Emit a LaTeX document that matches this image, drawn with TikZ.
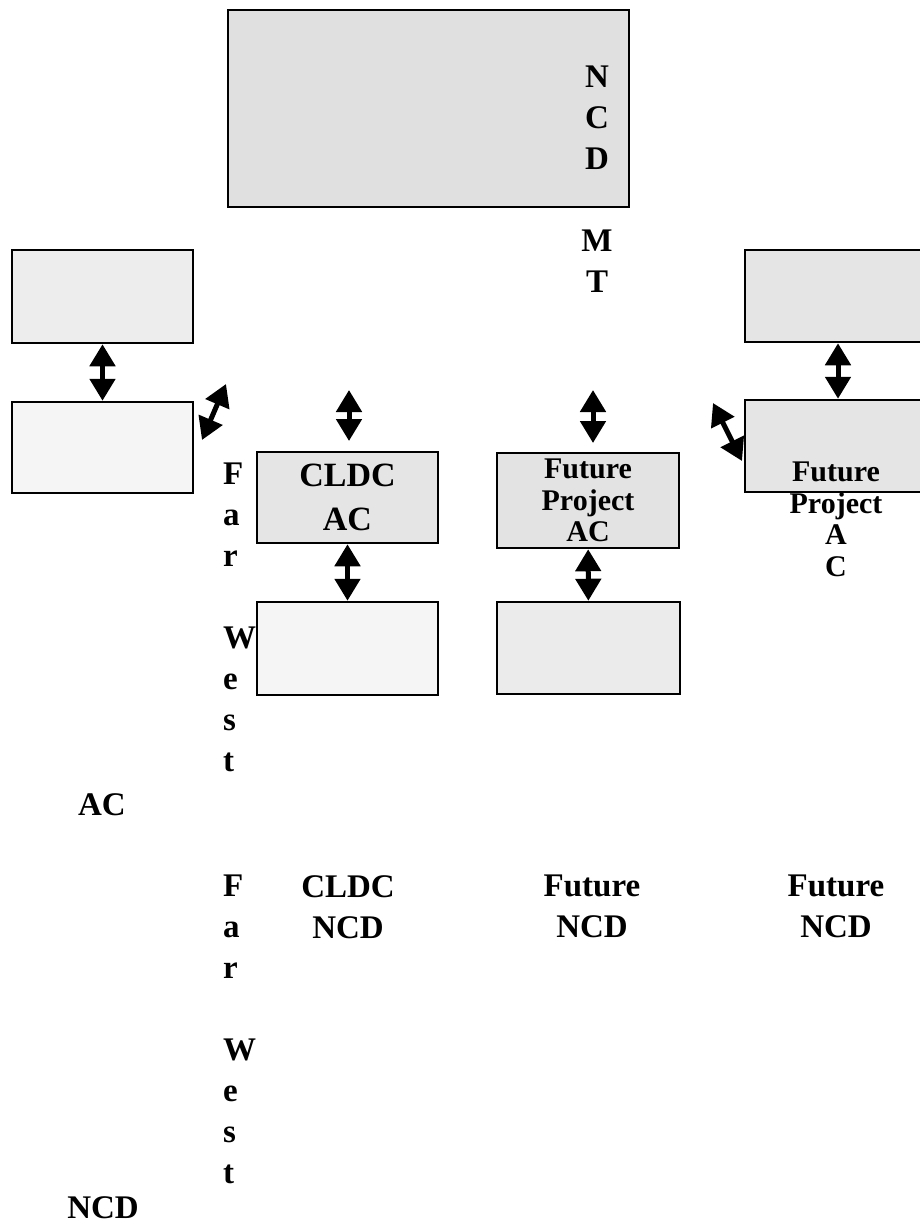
\documentclass[tikz,border=0pt]{standalone}
\usepackage{fontspec}
\setmainfont{Liberation Serif}
\usetikzlibrary{arrows.meta}

\begin{document}
\begin{tikzpicture}[x=1pt, y=-1pt,
  box/.style={draw, line width=2.5pt, inner sep=0pt, align=center},
  arr/.style={{Triangle[width=25pt,length=22pt]}-{Triangle[width=25pt,length=22pt]}, line width=5pt},
  lbl/.style={inner sep=0pt, font=\fontsize{33}{41}\selectfont\bfseries},
  boxtxt/.style={font=\fontsize{34}{44}\selectfont\bfseries},
  smalltxt/.style={inner sep=0pt, font=\fontsize{30}{31.5}\selectfont\bfseries}
]
\clip (0,0) rectangle (920,1228);

% boxes
\node[box, fill=black!12, minimum width=401pt, minimum height=197pt] (ncdmt) at (428.5,108.5) {};
\node[box, fill=black!7, minimum width=181pt, minimum height=93pt] (fwtop) at (102.5,296.5) {};
\node[box, fill=black!4, minimum width=181pt, minimum height=91pt] (fwac) at (102.5,447.5) {};
\node[box, boxtxt, fill=black!10, minimum width=181pt, minimum height=91pt] (cldcac) at (347.5,497.5) {CLDC\\AC};
\node[box, fill=black!4, minimum width=181pt, minimum height=93pt] (cldcncd) at (347.5,648.5) {};
\node[box, smalltxt, fill=black!11, minimum width=182pt, minimum height=95pt] (fpac) at (588,500.5) {Future\\Project\\AC};
\node[box, fill=black!8, minimum width=183pt, minimum height=92pt] (fpncd) at (588.5,648) {};
\node[box, fill=black!10, minimum width=186pt, minimum height=92pt] (rtop) at (838,296) {};
\node[box, fill=black!10, minimum width=186pt, minimum height=92pt] (rac) at (838,446) {};

% free arrow ends
\coordinate (cldca) at (349,390);
\coordinate (cldcb) at (349,441);
\coordinate (fpa) at (593,390);
\coordinate (fpb) at (593,443);
\coordinate (fwda) at (202,440);
\coordinate (fwdb) at (226,384);
\coordinate (rda) at (713,403);
\coordinate (rdb) at (742,461);

% arrows
\draw[arr] (fwtop) -- (fwac);
\draw[arr] (cldcac) -- (cldcncd);
\draw[arr] (fpac) -- (fpncd);
\draw[arr] (rtop) -- (rac);
\draw[arr] (cldca) -- (cldcb);
\draw[arr] (fpa) -- (fpb);
\draw[arr] (fwda) -- (fwdb);
\draw[arr] (rda) -- (rdb);

% labels
\node[lbl, align=center, anchor=north] (ncdtxt) at (597,66) {N\\C\\D\\[41pt]M\\T};
\node[smalltxt, align=center, anchor=north] (rtxt) at (836,462) {Future\\Project\\A\\C};
\node[lbl, align=left, anchor=north west] (fwac1) at (223,463) {F\\a\\r\\[41pt]W\\e\\s\\t};
\node[lbl, anchor=base] (actxt) at (102,815) {AC};
\node[lbl, align=left, anchor=north west] (fwncd1) at (223,875) {F\\a\\r\\[41pt]W\\e\\s\\t};
\node[lbl, anchor=base] (ncdtxt2) at (103,1218) {NCD};
\node[lbl, align=center, anchor=north] (cldcnote) at (348,875) {CLDC\\NCD};
\node[lbl, align=center, anchor=north] (futnote) at (592,875) {Future\\NCD};
\node[lbl, align=center, anchor=north] (futnote2) at (836,875) {Future\\NCD};
\end{tikzpicture}
\end{document}
